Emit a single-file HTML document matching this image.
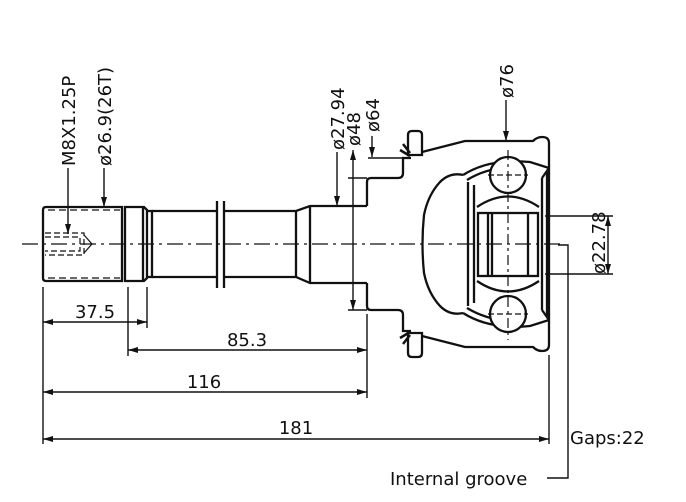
<!DOCTYPE html>
<html><head><meta charset="utf-8"><style>
html,body{margin:0;padding:0;background:#fff}
svg{display:block}
text{font-family:"DejaVu Sans","Liberation Sans",sans-serif;fill:#111}
</style></head><body>
<svg width="686" height="502" viewBox="0 0 686 502" xmlns="http://www.w3.org/2000/svg">
<defs>
<marker id="a" viewBox="0 0 10 6" refX="10" refY="3" markerWidth="10" markerHeight="6" orient="auto-start-reverse" markerUnits="userSpaceOnUse"><path d="M0,0 L10,3 L0,6 Z" fill="#111"/></marker>
</defs>
<rect width="686" height="502" fill="#fff"/>
<g stroke="#111" fill="none" stroke-width="2.3">
<line x1="22" y1="244" x2="560" y2="244" stroke-width="1.2" stroke-dasharray="16,5,3,5"/>
<path d="M46,207 H122 V281 H46 Q43,281 43,278 V210 Q43,207 46,207 Z"/>
<path d="M125,207 H144 L147,210 V278 L144,281 H125 Z"/>
<line x1="143" y1="207" x2="143" y2="281"/>
<path d="M147,211 L152,211 V277 L147,277"/>
<line x1="48" y1="210" x2="120" y2="210" stroke-width="1.2" stroke-dasharray="7,4"/>
<line x1="48" y1="278" x2="120" y2="278" stroke-width="1.2" stroke-dasharray="7,4"/>
<path d="M45,233 H84 V255 H45 M45,237 H80 V251 H45" stroke-width="1.2" stroke-dasharray="6,3"/>
<path d="M84,235 L92,244 L84,253" stroke-width="1.2"/>
<path d="M152,211 H216 M224,211 H296 L310,206 H367 M152,277 H216 M224,277 H296 L310,283 H367"/>
<line x1="296" y1="211" x2="296" y2="277"/>
<line x1="310" y1="206" x2="310" y2="283"/>
<line x1="217" y1="201" x2="217" y2="288"/>
<line x1="224" y1="201" x2="224" y2="288"/>
<path d="M367,206 V182 Q367,178 371,178 H398 Q403,178 403,173 V158 H411"/>
<path d="M367,283 V306 Q367,310 371,310 H398 Q403,310 403,315 V331 H411"/>
<path d="M408,155 V135 Q408,131 412,131 H418 Q422,131 422,135 V155 Z"/>
<path d="M408,333 V353 Q408,357 412,357 H418 Q422,357 422,353 V333 Z"/>
<path d="M400,150 L410,156 M403,144 L410,153" stroke-width="2.5"/>
<path d="M400,338 L410,332 M403,344 L410,335" stroke-width="2.5"/>
<path d="M422,152 L465,141 H533 Q537,137 542,137 Q549,137 549,143 V345 Q549,351 542,351 Q537,351 533,347 H465 L422,336"/>
<path d="M463,175 Q450,172 440,182 Q428,195 424,215 Q421,244 424,273 Q428,293 440,306 Q450,316 463,313"/>
<path d="M463,175 Q490,158 530,162 L549,168"/>
<path d="M463,313 Q490,330 530,326 L549,320"/>
<path d="M467,180 Q490,166 520,167 M467,308 Q490,322 520,321"/>
<line x1="468" y1="182" x2="468" y2="306"/>
<line x1="474" y1="185" x2="474" y2="303"/>
<line x1="542" y1="178" x2="542" y2="310"/>
<line x1="547" y1="172" x2="547" y2="316"/>
<path d="M542,178 L549,168 M542,310 L549,320"/>
<circle cx="508" cy="175" r="18" fill="#fff"/>
<circle cx="508" cy="314" r="18" fill="#fff"/>
<path d="M477,207 Q508,186 539,207 M477,281 Q508,302 539,281"/>
<rect x="478" y="213" width="60" height="63"/>
<line x1="488" y1="213" x2="488" y2="276"/>
<line x1="492" y1="213" x2="492" y2="276"/>
<line x1="528" y1="213" x2="528" y2="276"/>
</g>
<g stroke="#111" stroke-width="1.4" fill="none">
<line x1="508" y1="150" x2="508" y2="340" stroke-width="1.2" stroke-dasharray="10,4,3,4"/>
<line x1="488" y1="175" x2="528" y2="175" stroke-width="1.2" stroke-dasharray="6,3"/>
<line x1="488" y1="314" x2="528" y2="314" stroke-width="1.2" stroke-dasharray="6,3"/>
<line x1="43" y1="287" x2="43" y2="444"/>
<line x1="128" y1="287" x2="128" y2="356"/>
<line x1="147" y1="287" x2="147" y2="328"/>
<line x1="367" y1="314" x2="367" y2="398"/>
<line x1="549" y1="355" x2="549" y2="444"/>
<line x1="43" y1="322" x2="147" y2="322" marker-start="url(#a)" marker-end="url(#a)"/>
<line x1="128" y1="350" x2="367" y2="350" marker-start="url(#a)" marker-end="url(#a)"/>
<line x1="43" y1="392" x2="367" y2="392" marker-start="url(#a)" marker-end="url(#a)"/>
<line x1="43" y1="439" x2="549" y2="439" marker-start="url(#a)" marker-end="url(#a)"/>
<line x1="68" y1="168" x2="68" y2="234" marker-end="url(#a)"/>
<line x1="104" y1="168" x2="104" y2="207" marker-end="url(#a)"/>
<line x1="337" y1="152" x2="337" y2="206" marker-end="url(#a)"/>
<line x1="353" y1="150" x2="353" y2="310" marker-start="url(#a)" marker-end="url(#a)"/>
<line x1="348" y1="178" x2="367" y2="178"/>
<line x1="348" y1="310" x2="367" y2="310"/>
<line x1="372" y1="136" x2="372" y2="157" marker-end="url(#a)"/>
<line x1="368" y1="158" x2="403" y2="158"/>
<line x1="506" y1="100" x2="506" y2="141" marker-end="url(#a)"/>
<line x1="545" y1="216" x2="613" y2="216"/>
<line x1="545" y1="274" x2="613" y2="274"/>
<line x1="608" y1="216" x2="608" y2="274" marker-start="url(#a)" marker-end="url(#a)"/>
<path d="M558,245 H568 V478 H547"/>
</g>
<g font-size="18">
<text x="95" y="318" text-anchor="middle">37.5</text>
<text x="247" y="346" text-anchor="middle">85.3</text>
<text x="204" y="388" text-anchor="middle">116</text>
<text x="296" y="434" text-anchor="middle">181</text>
<text x="570" y="444">Gaps:22</text>
<text x="390" y="485">Internal groove</text>
<text transform="translate(75,166) rotate(-90)">M8X1.25P</text>
<text transform="translate(111,166) rotate(-90)">ø26.9(26T)</text>
<text transform="translate(344,150) rotate(-90)">ø27.94</text>
<text transform="translate(360,146) rotate(-90)">ø48</text>
<text transform="translate(379,132) rotate(-90)">ø64</text>
<text transform="translate(513,98) rotate(-90)">ø76</text>
<text transform="translate(605,274) rotate(-90)">ø22.78</text>
</g>
</svg>
</body></html>
